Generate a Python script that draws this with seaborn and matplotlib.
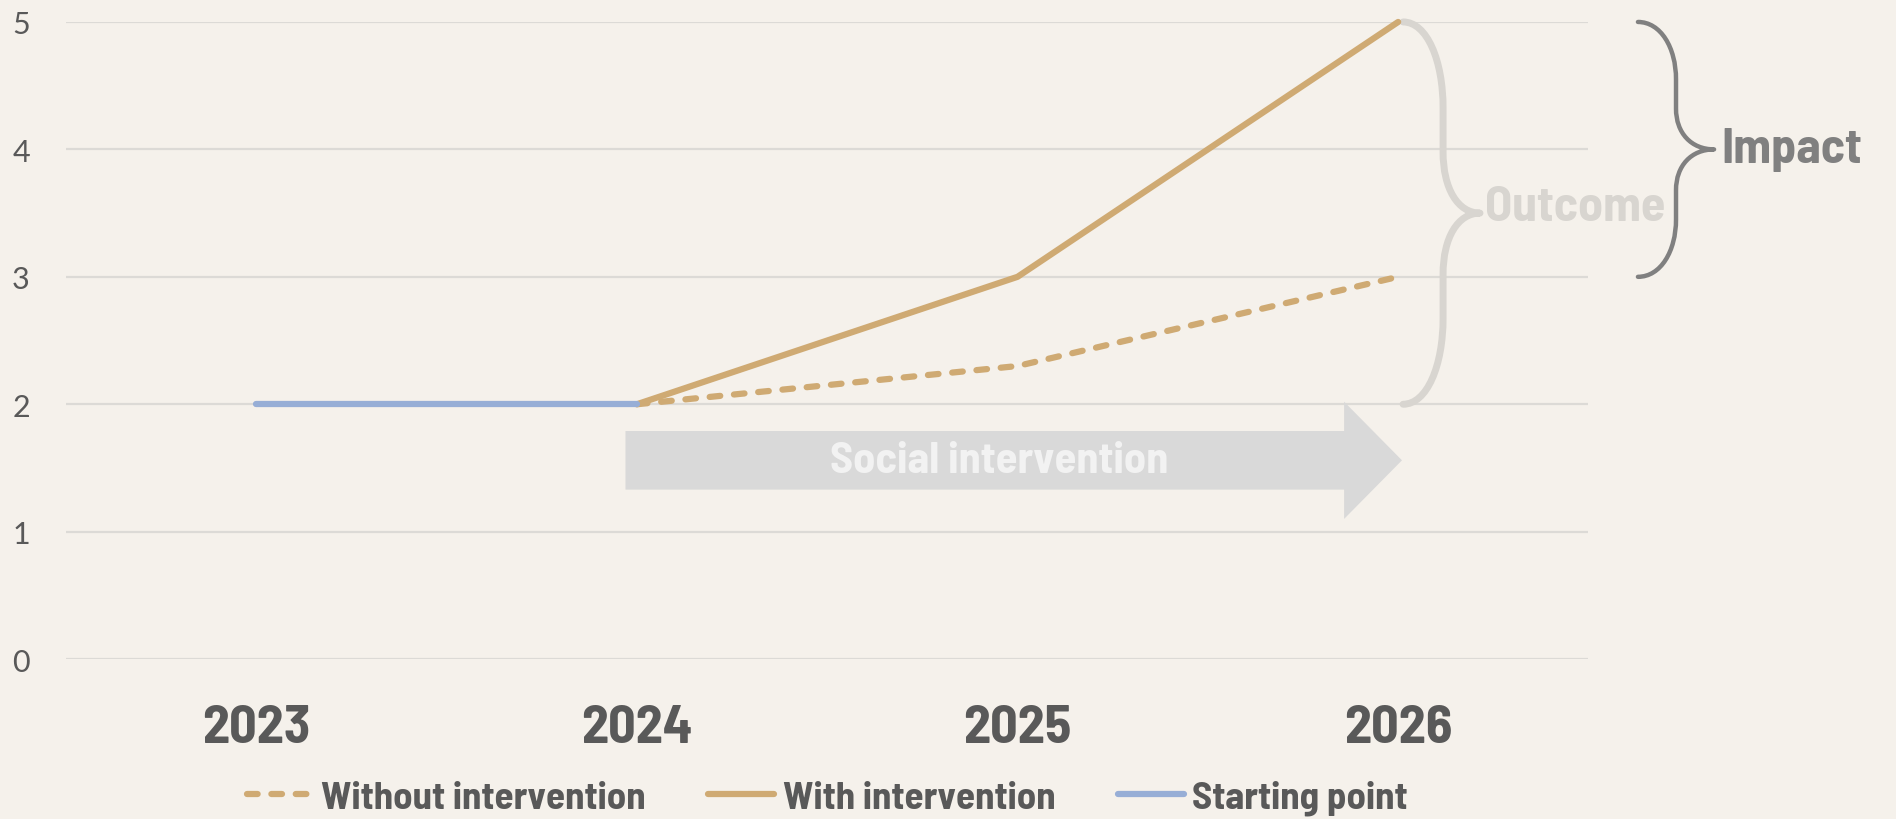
import numpy as np
import pandas as pd
import matplotlib
matplotlib.use('Agg')
import matplotlib.pyplot as plt
import seaborn as sns
from matplotlib.path import Path
from matplotlib.patches import PathPatch, FancyArrow

# --- データ ---
YEARS = [2023, 2024, 2025, 2026]
WITHOUT_INTERVENTION = [np.nan, 2, 2.3, 3]
WITH_INTERVENTION = [np.nan, 2, 3, 5]
STARTING_POINT = [2, 2, np.nan, np.nan]
SERIES_ORDER = ['Without intervention', 'With intervention', 'Starting point']
Y_TICKS = [0, 1, 2, 3, 4, 5]

# --- スタイル ---
BG = '#F5F1EB'
TAN = '#CFAA73'
BLUE = '#97AED6'
TEXT_DARK = '#595959'
GRID = '#DCDAD6'
OUTCOME_GRAY = '#D8D5D0'
IMPACT_GRAY = '#808080'
ARROW_GRAY = '#D9D9D9'
NARROW = ['Barlow Semi Condensed', 'Barlow Condensed', 'DejaVu Sans']
LIGHT = ['Lato', 'DejaVu Sans']
LW = 4.5


def draw_brace(ax, x_end, x_mid, x_tip, y_top, y_bot, color, lw):
    """右向きの波かっこ } をベジェ曲線で描く"""
    y_c = (y_top + y_bot) / 2
    h = (y_top - y_bot) / 2
    q1 = h * 0.45  # 端側のカーブ
    q2 = h * 0.32  # 先端側のカーブ
    xe = x_end + (x_mid - x_end) * 0.6
    xt = x_mid + (x_tip - x_mid) * 0.4
    verts = [
        (x_end, y_top),
        (xe, y_top), (x_mid, y_top - q1 * 0.45), (x_mid, y_top - q1),
        (x_mid, y_c + q2),
        (x_mid, y_c + q2 * 0.4), (xt, y_c), (x_tip, y_c),
        (xt, y_c), (x_mid, y_c - q2 * 0.4), (x_mid, y_c - q2),
        (x_mid, y_bot + q1),
        (x_mid, y_bot + q1 * 0.45), (xe, y_bot), (x_end, y_bot),
    ]
    codes = ([Path.MOVETO] + [Path.CURVE4] * 3 + [Path.LINETO] + [Path.CURVE4] * 6
             + [Path.LINETO] + [Path.CURVE4] * 3)
    patch = PathPatch(Path(verts, codes), facecolor='none', edgecolor=color,
                      linewidth=lw, capstyle='round', joinstyle='round', clip_on=False)
    ax.add_patch(patch)


def main():
    df = pd.DataFrame({
        'year': YEARS * 3,
        'value': WITHOUT_INTERVENTION + WITH_INTERVENTION + STARTING_POINT,
        'series': np.repeat(SERIES_ORDER, len(YEARS)),
    }).dropna()

    sns.set_theme(style='white')
    plt.rcParams['font.family'] = LIGHT

    fig = plt.figure(figsize=(18.96, 8.2), dpi=100, facecolor=BG)
    ax = fig.add_axes([0.0348, 0.195, 0.803, 0.777])
    ax.set_facecolor(BG)

    sns.lineplot(
        data=df, x='year', y='value',
        hue='series', style='series',
        hue_order=SERIES_ORDER, style_order=SERIES_ORDER,
        palette={'Without intervention': TAN, 'With intervention': TAN, 'Starting point': BLUE},
        dashes={'Without intervention': (1.7, 2.2), 'With intervention': '', 'Starting point': ''},
        linewidth=LW, solid_capstyle='round', dash_capstyle='round',
        clip_on=False, zorder=3, ax=ax,
    )

    ax.set_xlim(2022.5, 2026.5)
    ax.set_ylim(0, 5)
    ax.set_xticks(YEARS)
    ax.set_xticklabels([str(y) for y in YEARS], family=NARROW, weight='bold',
                       fontsize=39, color=TEXT_DARK)
    ax.set_yticks(Y_TICKS)
    ax.set_yticklabels([str(v) for v in Y_TICKS], family=LIGHT, weight='normal',
                       fontsize=22, color=TEXT_DARK)
    ax.tick_params(axis='x', length=0, pad=32)
    ax.tick_params(axis='y', length=0, pad=26)
    ax.grid(axis='y', color=GRID, linewidth=1.6)
    ax.grid(axis='x', visible=False)
    for s in ax.spines.values():
        s.set_visible(False)
    ax.set_xlabel('')
    ax.set_ylabel('')

    # --- Social intervention の矢印 ---
    arrow = FancyArrow(2023.97, 1.56, 2.04, 0, width=0.46, head_width=0.92,
                       head_length=0.152, length_includes_head=True,
                       color=ARROW_GRAY, linewidth=0, zorder=1)
    ax.add_patch(arrow)
    ax.text(2024.953, 1.56, 'Social intervention', family=NARROW, weight='bold',
            fontsize=32, color='#F2F2F2', ha='center', va='center', zorder=2)

    # --- かっこ (Outcome / Impact) ---
    draw_brace(ax, 2026.013, 2026.118, 2026.215, 5.0, 2.0, OUTCOME_GRAY, 5.0)
    ax.text(2026.228, 3.55, 'Outcome', family=NARROW, weight='bold', fontsize=36,
            color=OUTCOME_GRAY, ha='left', va='center', clip_on=False)
    draw_brace(ax, 2026.63, 2026.73, 2026.83, 5.0, 3.0, IMPACT_GRAY, 3.2)
    ax.text(2026.85, 4.0, 'Impact', family=NARROW, weight='bold', fontsize=36,
            color=IMPACT_GRAY, ha='left', va='center', clip_on=False)

    # --- 凡例 ---
    handles, labels = ax.get_legend_handles_labels()
    leg = ax.legend(handles, labels, loc='center', bbox_to_anchor=(0.5, -0.217),
                    ncol=3, frameon=False, handlelength=1.7, handletextpad=0.22,
                    columnspacing=1.6, prop={'family': NARROW, 'weight': 'bold', 'size': 28})
    for line in leg.get_lines():
        line.set_linewidth(LW)
        line.set_dash_capstyle('round')
        line.set_solid_capstyle('round')
    for t in leg.get_texts():
        t.set_color(TEXT_DARK)

    fig.savefig('out.png', dpi=100, facecolor=BG)
    plt.close(fig)


if __name__ == '__main__':
    main()
